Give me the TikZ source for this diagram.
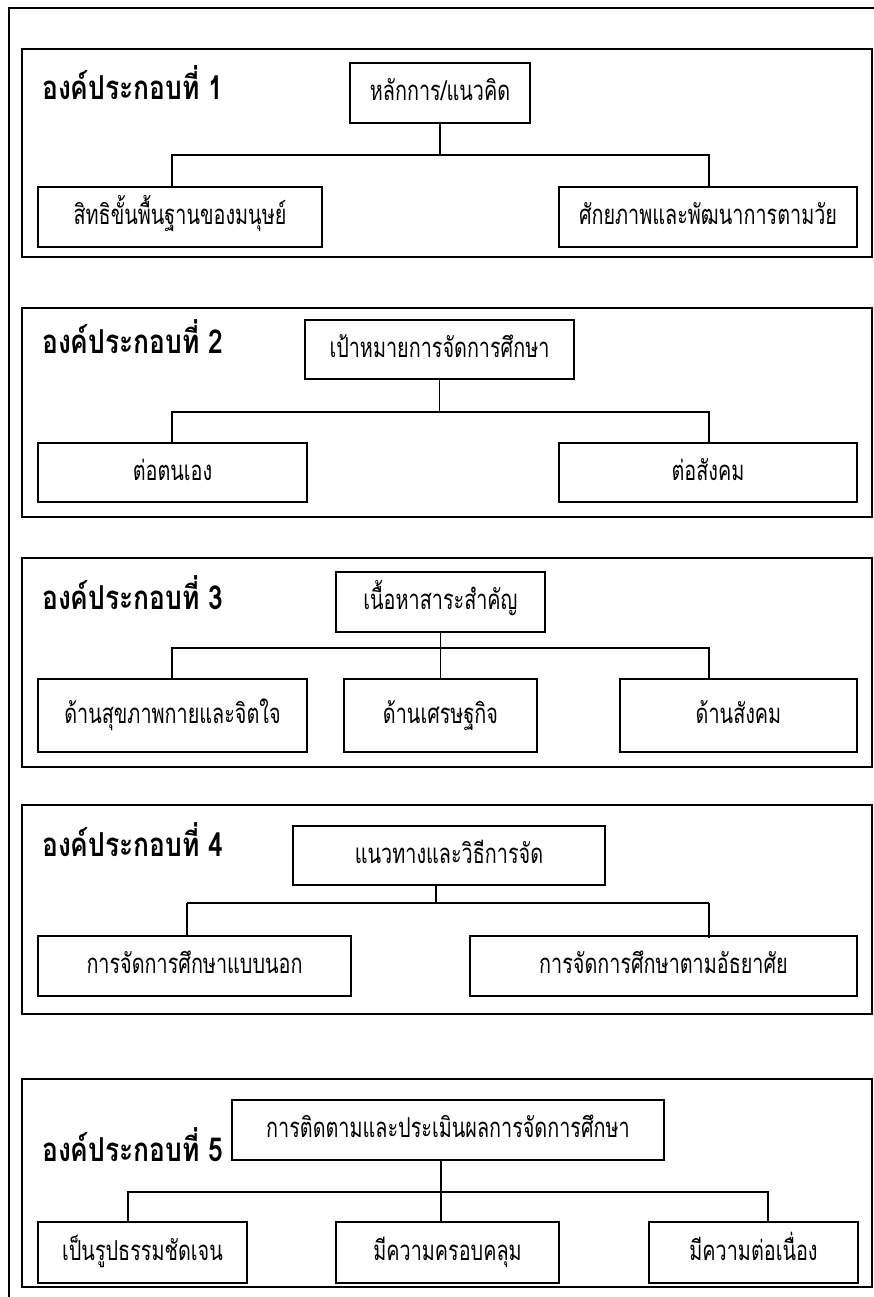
\documentclass[tikz,border=0pt]{standalone}
\usepackage{fontspec}
\newfontfamily\thaitext[Script=Thai,FakeStretch=0.72]{Loma}
\newfontfamily\thaihead[Script=Thai,FakeStretch=0.8]{Loma}

\begin{document}
\begin{tikzpicture}[x=1pt,y=-1pt,
  panel/.style={draw,line width=1.6pt},
  box/.style={draw,line width=1.6pt,inner sep=0pt,text height=20pt,text depth=5pt,
    font=\thaitext\fontsize{27.5}{32}\selectfont},
  head/.style={anchor=west,inner sep=0pt,font=\thaihead\bfseries\fontsize{33}{38}\selectfont},
  link/.style={line width=1.2pt}]
  \useasboundingbox (0,0) rectangle (874,1297);
  \draw[panel] (9,8) rectangle (900,1320);

  % component 1
  \draw[panel] (22,49) rectangle (872,257);
  \node[head] (t1) at (42,83) {องค์ประกอบที่ 1};
  \node[box,minimum width=180pt,minimum height=60pt] (h1) at (440,93) {หลักการ/แนวคิด};
  \node[box,minimum width=284pt,minimum height=60pt] (a1) at (180,217) {สิทธิขั้นพื้นฐานของมนุษย์};
  \node[box,minimum width=298pt,minimum height=60pt] (b1) at (708,217) {ศักยภาพและพัฒนาการตามวัย};
  \coordinate (l1) at (172,155);
  \coordinate (r1) at (709,155);
  \draw[link] (h1.south) -- (h1.south |- l1);
  \draw[link] (l1 |- a1.north) -- (l1) -- (r1) -- (r1 |- b1.north);

  % component 2
  \draw[panel] (22,308) rectangle (872,517);
  \node[head] (t2) at (42,337) {องค์ประกอบที่ 2};
  \node[box,minimum width=269pt,minimum height=59pt] (h2) at (439.5,349.5) {เป้าหมายการจัดการศึกษา};
  \node[box,minimum width=269pt,minimum height=59pt] (a2) at (172.5,472.5) {ต่อตนเอง};
  \node[box,minimum width=298pt,minimum height=59pt] (b2) at (708,472.5) {ต่อสังคม};
  \coordinate (l2) at (172,412);
  \coordinate (r2) at (709,412);
  \draw[link] (h2.south) -- (h2.south |- l2);
  \draw[link] (l2 |- a2.north) -- (l2) -- (r2) -- (r2 |- b2.north);

  % component 3
  \draw[panel] (22,558) rectangle (872,767);
  \node[head] (t3) at (42,593) {องค์ประกอบที่ 3};
  \node[box,minimum width=209pt,minimum height=60pt] (h3) at (440.5,602) {เนื้อหาสาระสำคัญ};
  \node[box,minimum width=269pt,minimum height=73pt] (a3) at (172.5,715.5) {ด้านสุขภาพกายและจิตใจ};
  \node[box,minimum width=193pt,minimum height=73pt] (m3) at (440.5,715.5) {ด้านเศรษฐกิจ};
  \node[box,minimum width=237pt,minimum height=73pt] (b3) at (738.5,715.5) {ด้านสังคม};
  \coordinate (l3) at (172,648);
  \coordinate (r3) at (709,648);
  \draw[link] (h3.south) -- (m3.north);
  \draw[link] (l3 |- a3.north) -- (l3) -- (r3) -- (r3 |- b3.north);

  % component 4
  \draw[panel] (22,805) rectangle (872,1014);
  \node[head] (t4) at (42,840) {องค์ประกอบที่ 4};
  \node[box,minimum width=312pt,minimum height=59pt] (h4) at (449,855.5) {แนวทางและวิธีการจัด};
  \node[box,minimum width=313pt,minimum height=60pt] (a4) at (194.5,966) {การจัดการศึกษาแบบนอก};
  \node[box,minimum width=387pt,minimum height=60pt] (b4) at (663.5,966) {การจัดการศึกษาตามอัธยาศัย};
  \coordinate (l4) at (187,903);
  \coordinate (m4) at (436,903);
  \coordinate (r4) at (709,903);
  \draw[link] (m4 |- h4.south) -- (m4);
  \draw[link,line width=1.6pt] (l4) -- (r4);
  \draw[link] (l4 |- a4.north) -- (l4);
  \draw[link] (r4) -- ([yshift=-3pt]r4 |- b4.north);

  % component 5
  \draw[panel] (22,1079) rectangle (872,1287);
  \node[head] (t5) at (42,1145) {องค์ประกอบที่ 5};
  \node[box,minimum width=432pt,minimum height=60pt] (h5) at (448,1130) {การติดตามและประเมินผลการจัดการศึกษา};
  \node[box,minimum width=209pt,minimum height=61pt] (a5) at (142.5,1252.5) {เป็นรูปธรรมชัดเจน};
  \node[box,minimum width=223pt,minimum height=61pt] (m5) at (447.5,1252.5) {มีความครอบคลุม};
  \node[box,minimum width=209pt,minimum height=61pt] (b5) at (753.5,1252.5) {มีความต่อเนื่อง};
  \coordinate (l5) at (128,1192);
  \coordinate (c5) at (441,1192);
  \coordinate (r5) at (768,1192);
  \draw[link] (c5 |- h5.south) -- (c5 |- m5.north);
  \draw[link] (l5 |- a5.north) -- (l5) -- (r5) -- (r5 |- b5.north);
\end{tikzpicture}
\end{document}
